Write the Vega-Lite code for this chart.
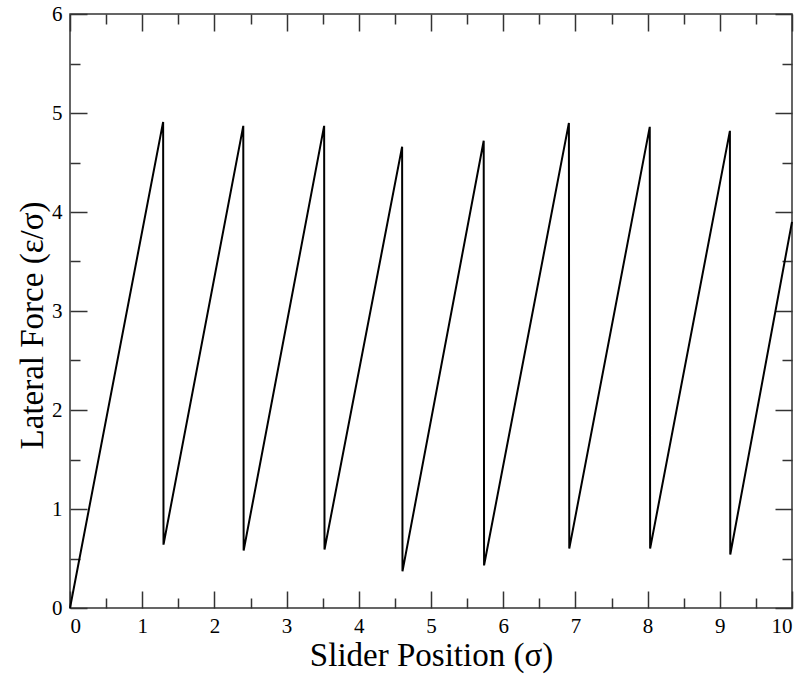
{
  "$schema": "https://vega.github.io/schema/vega-lite/v6.json",
  "width": 722,
  "height": 594,
  "autosize": {"type": "none"},
  "padding": {"left": 70, "top": 14, "right": 17, "bottom": 69},
  "background": "white",
  "config": {
    "view": {"stroke": "#333333", "strokeWidth": 1.5},
    "axis": {
      "domain": false,
      "grid": false,
      "labelFont": "Liberation Serif",
      "titleFont": "Liberation Serif",
      "labelFontSize": 21,
      "titleFontSize": 33,
      "labelColor": "black",
      "titleColor": "black",
      "titleFontWeight": "normal",
      "tickColor": "#333333",
      "tickWidth": 1.5
    }
  },
  "datasets": {
    "saw": [
      {"i": 0, "x": 0, "y": 0},
      {"i": 1, "x": 1.29, "y": 4.91},
      {"i": 2, "x": 1.295, "y": 0.64},
      {"i": 3, "x": 2.40, "y": 4.87},
      {"i": 4, "x": 2.405, "y": 0.58},
      {"i": 5, "x": 3.52, "y": 4.87},
      {"i": 6, "x": 3.525, "y": 0.59},
      {"i": 7, "x": 4.60, "y": 4.66},
      {"i": 8, "x": 4.605, "y": 0.37},
      {"i": 9, "x": 5.73, "y": 4.72},
      {"i": 10, "x": 5.735, "y": 0.43},
      {"i": 11, "x": 6.91, "y": 4.90},
      {"i": 12, "x": 6.915, "y": 0.60},
      {"i": 13, "x": 8.03, "y": 4.86},
      {"i": 14, "x": 8.035, "y": 0.60},
      {"i": 15, "x": 9.14, "y": 4.82},
      {"i": 16, "x": 9.145, "y": 0.54},
      {"i": 17, "x": 10, "y": 3.9}
    ]
  },
  "data": {"name": "saw"},
  "layer": [
    {
      "mark": {"type": "line", "color": "black", "strokeWidth": 2},
      "encoding": {
        "x": {
          "field": "x", "type": "quantitative",
          "scale": {"domain": [0, 10], "nice": false, "zero": false},
          "axis": {"orient": "bottom", "values": [0,1,2,3,4,5,6,7,8,9,10], "format": "d", "tickSize": -17, "labelPadding": 24, "title": "Slider Position (σ)", "titleBaseline": "alphabetic", "titleX": 361, "titleY": 57}
        },
        "y": {
          "field": "y", "type": "quantitative",
          "scale": {"domain": [0, 6], "nice": false, "zero": false},
          "axis": {"orient": "left", "values": [0,1,2,3,4,5,6], "format": "d", "tickSize": -17, "labelPadding": 25, "title": "Lateral Force (ε/σ)", "titleBaseline": "alphabetic", "titleX": -28, "titleY": 311}
        },
        "order": {"field": "i", "type": "quantitative"}
      }
    },
    {
      "mark": {"type": "line", "opacity": 0},
      "encoding": {
        "x": {"field": "x", "type": "quantitative", "axis": {"orient": "bottom", "values": [0.5,1.5,2.5,3.5,4.5,5.5,6.5,7.5,8.5,9.5], "tickSize": -10, "labels": false, "title": null}},
        "y": {"field": "y", "type": "quantitative", "axis": {"orient": "left", "values": [0.5,1.5,2.5,3.5,4.5,5.5], "tickSize": -10, "labels": false, "title": null}},
        "order": {"field": "i", "type": "quantitative"}
      }
    },
    {
      "mark": {"type": "line", "opacity": 0},
      "encoding": {
        "x": {"field": "x", "type": "quantitative", "axis": {"orient": "top", "values": [0,1,2,3,4,5,6,7,8,9,10], "tickSize": -17, "labels": false, "title": null}},
        "y": {"field": "y", "type": "quantitative", "axis": {"orient": "right", "values": [0,1,2,3,4,5,6], "tickSize": -17, "labels": false, "title": null}},
        "order": {"field": "i", "type": "quantitative"}
      }
    },
    {
      "mark": {"type": "line", "opacity": 0},
      "encoding": {
        "x": {"field": "x", "type": "quantitative", "axis": {"orient": "top", "values": [0.5,1.5,2.5,3.5,4.5,5.5,6.5,7.5,8.5,9.5], "tickSize": -10, "labels": false, "title": null}},
        "y": {"field": "y", "type": "quantitative", "axis": {"orient": "right", "values": [0.5,1.5,2.5,3.5,4.5,5.5], "tickSize": -10, "labels": false, "title": null}},
        "order": {"field": "i", "type": "quantitative"}
      }
    }
  ],
  "resolve": {"axis": {"x": "independent", "y": "independent"}}
}
